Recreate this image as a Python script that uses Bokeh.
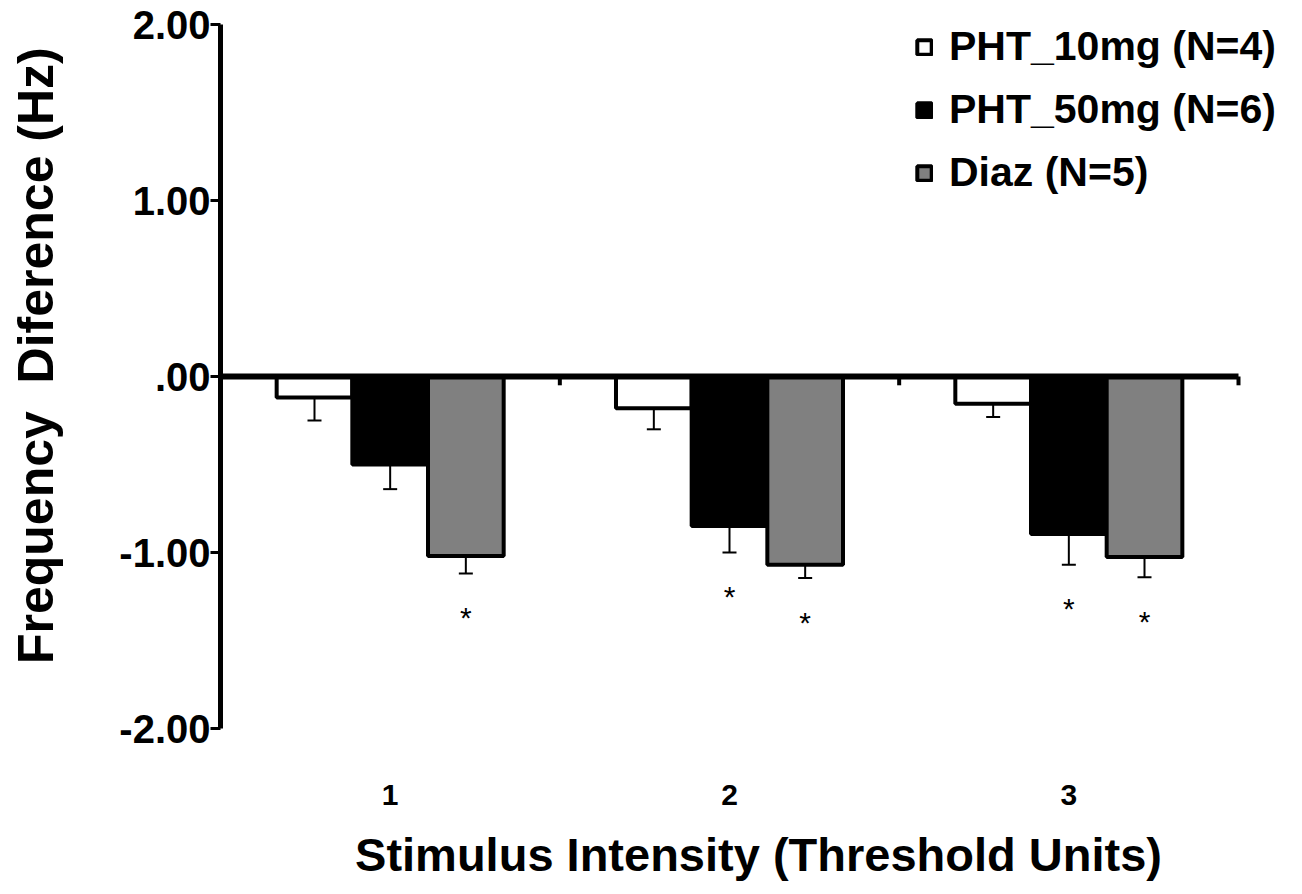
from bokeh.plotting import figure
from bokeh.models import (ColumnDataSource, Range1d, FixedTicker, Whisker,
                          TeeHead, Legend, LegendItem)
from bokeh.core.properties import value
from bokeh.transform import dodge
from bokeh.embed import file_html
from bokeh.resources import INLINE

# ---- data ----
intensity = [1, 2, 3]
x_tick_labels = ["1", "2", "3"]
series_names = ["PHT_10mg (N=4)", "PHT_50mg (N=6)", "Diaz (N=5)"]
pht10_mean = [-0.12, -0.18, -0.155]
pht10_sem = [0.13, 0.12, 0.075]
pht50_mean = [-0.50, -0.85, -0.895]
pht50_sem = [0.14, 0.15, 0.175]
diaz_mean = [-1.02, -1.07, -1.025]
diaz_sem = [0.10, 0.075, 0.115]
pht10_sig = [False, False, False]
pht50_sig = [False, True, True]
diaz_sig = [True, True, True]
y_ticks = [-2, -1, 0, 1, 2]
y_tick_labels = ["-2.00", "-1.00", ".00", "1.00", "2.00"]

FONT = "Liberation Sans"
BAR_W = 0.223
STAR_GAP = 0.25

# layout (pixels)
FIG_W, FIG_H = 1296, 892
LEFT, TOP, BOTTOM_Y = 220, 24, 728
AXIS_RIGHT = 1238          # where the category axis ends
FRAME_RIGHT = 1296         # frame extends further so the legend fits
x0 = min(intensity) - 0.5
x1 = max(intensity) + 0.5
px_per_unit = (AXIS_RIGHT - LEFT) / (x1 - x0)
x_end = x0 + (FRAME_RIGHT - LEFT) / px_per_unit

p = figure(width=FIG_W, height=FIG_H, output_backend="svg", toolbar_location=None,
           x_range=Range1d(x0, x_end), y_range=Range1d(-2, 2),
           min_border_left=LEFT, min_border_right=FIG_W - FRAME_RIGHT,
           min_border_top=TOP, min_border_bottom=FIG_H - BOTTOM_Y)
p.outline_line_color = None
p.xgrid.visible = False
p.ygrid.visible = False
p.background_fill_color = "white"
p.border_fill_color = "white"

fills = ["white", "black", "#808080"]
means = [pht10_mean, pht50_mean, diaz_mean]
sems = [pht10_sem, pht50_sem, diaz_sem]
sigs = [pht10_sig, pht50_sig, diaz_sig]
offsets = [-BAR_W, 0.0, BAR_W]

items = []
for name, fill, m, s, sig, off in zip(series_names, fills, means, sems, sigs, offsets):
    lower = [mi - si for mi, si in zip(m, s)]
    src = ColumnDataSource(dict(x=intensity, top=m, lower=lower))
    r = p.vbar(x=dodge("x", off, range=p.x_range), top="top", bottom=0, width=BAR_W,
               source=src, fill_color=fill, line_color="black", line_width=4)
    items.append(LegendItem(label=name, renderers=[r]))
    w = Whisker(base=dodge("x", off, range=p.x_range), upper="top", lower="lower",
                source=src, line_color="black", line_width=2,
                upper_head=None, lower_head=TeeHead(size=14, line_width=2, line_color="black"))
    p.add_layout(w)
    sx = [xi + off for xi, f in zip(intensity, sig) if f]
    sy = [lo - STAR_GAP for lo, f in zip(lower, sig) if f]
    p.text(x=sx, y=sy, text=["*"] * len(sx), text_font=value(FONT),
           text_font_size="30px", text_align="center", text_baseline="middle",
           text_color="black")

# zero line and category boundary ticks
p.segment(x0=[x0], y0=[0], x1=[x1], y1=[0], line_color="black", line_width=6)
bounds = [c + 0.5 for c in intensity]
p.segment(x0=bounds, y0=[0] * 3, x1=bounds, y1=[-0.05] * 3, line_color="black", line_width=4)

# axes
xa = p.xaxis[0]
xa.ticker = FixedTicker(ticks=intensity)
xa.major_label_overrides = {i: t for i, t in zip(intensity, x_tick_labels)}
xa.axis_line_color = None
xa.major_tick_line_color = None
xa.minor_tick_line_color = None
xa.major_label_text_font = FONT
xa.major_label_text_font_style = "bold"
xa.major_label_text_font_size = "30px"
xa.major_label_text_color = "black"
xa.major_label_standoff = 50
xa.axis_label = "Stimulus Intensity (Threshold Units)"
xa.axis_label_text_font = FONT
xa.axis_label_text_font_style = "bold"
xa.axis_label_text_font_size = "47px"
xa.axis_label_text_color = "black"
xa.axis_label_standoff = 20

ya = p.yaxis[0]
ya.ticker = FixedTicker(ticks=y_ticks)
ya.major_label_overrides = {t: l for t, l in zip(y_ticks, y_tick_labels)}
ya.axis_line_width = 5
ya.major_tick_line_width = 3
ya.major_tick_out = 10
ya.major_tick_in = 0
ya.minor_tick_line_color = None
ya.major_label_text_font = FONT
ya.major_label_text_font_style = "bold"
ya.major_label_text_font_size = "40px"
ya.major_label_text_color = "black"
ya.major_label_standoff = 0
# leading no-break spaces nudge the centred label upward as in the original
ya.axis_label = "\u00a0\u00a0\u00a0Frequency\u00a0 Diference (Hz)"
ya.axis_label_text_font = FONT
ya.axis_label_text_font_style = "bold"
ya.axis_label_text_font_size = "50px"
ya.axis_label_text_color = "black"
ya.axis_label_standoff = 52

legend = Legend(items=items, location=(695, 532), orientation="vertical",
                label_text_font=FONT, label_text_font_style="bold",
                label_text_font_size="41px", label_text_color="black",
                glyph_width=18, glyph_height=18,
                label_standoff=16, spacing=16, padding=0, margin=0,
                border_line_color=None, background_fill_alpha=0)
p.add_layout(legend)

open("out.html", "w").write(file_html(p, INLINE))
